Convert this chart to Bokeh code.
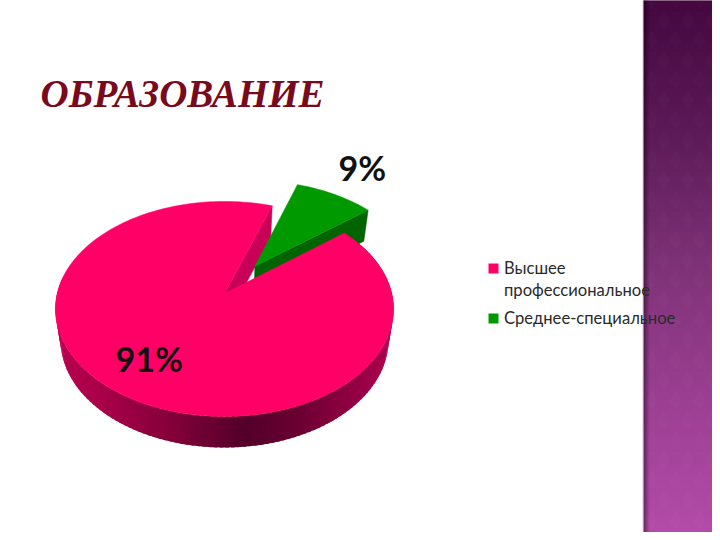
import math
from bokeh.plotting import figure
from bokeh.models import Range1d
from bokeh.core.properties import value
from bokeh.embed import file_html
from bokeh.resources import INLINE

title_text = "ОБРАЗОВАНИЕ"
categories = ["Высшее\nпрофессиональное", "Среднее-специальное"]
shares = [91, 9]
share_labels = ["91%", "9%"]
top_colors = ["#ff0066", "#009900"]
wall_colors = ["#c90058", "#006400"]

p = figure(width=712, height=532, x_range=Range1d(0, 712), y_range=Range1d(532, 0),
           output_backend="svg", toolbar_location=None, min_border=0,
           x_axis_type=None, y_axis_type=None, outline_line_color=None,
           background_fill_color="white", border_fill_color="white")
p.grid.visible = False


def mix(c1, c2, t):
    a = [int(c1[i:i + 2], 16) for i in (1, 3, 5)]
    b = [int(c2[i:i + 2], 16) for i in (1, 3, 5)]
    return "#%02x%02x%02x" % tuple(round(a[i] + (b[i] - a[i]) * t) for i in range(3))


def ramp(stops, x):
    if x <= stops[0][0]:
        return stops[0][1]
    for (x0, c0), (x1, c1) in zip(stops, stops[1:]):
        if x <= x1:
            return mix(c0, c1, (x - x0) / (x1 - x0))
    return stops[-1][1]


# decorative side band
BAND_L, BAND_R = 643, 720
band_stops = [(0, "#44073f"), (135, "#5c1a58"), (270, "#7f3278"), (405, "#9c3f93"), (540, "#b44ca9")]
ys = list(range(0, 540, 4))
p.quad(left=BAND_L, right=BAND_R, top=ys, bottom=[y + 4 for y in ys],
       fill_color=[ramp(band_stops, y + 2) for y in ys],
       line_color=[ramp(band_stops, y + 2) for y in ys], line_width=1)
dx, dy = [], []
for r in range(0, 30):
    for c in range(0, 5):
        dx.append(BAND_L + 8 + c * 24 + (12 if r % 2 else 0))
        dy.append(r * 20)
p.scatter(dx, dy, marker="diamond", size=20, fill_color="white", fill_alpha=0.016, line_color=None)
for i, alpha in enumerate([0.45, 0.38, 0.3, 0.2, 0.12, 0.05]):
    p.quad(left=BAND_L + i, right=BAND_L + i + 1, top=0, bottom=540,
           fill_color="black", fill_alpha=alpha, line_color=None)
p.quad(left=BAND_L - 1, right=BAND_L, top=0, bottom=540, fill_color="#e8c8e6", line_color=None)

# pie projection
CX, CY, AX, AY, K = 224.0, 293.0, 167.3, 105.3, 0.144
DEPTH, SHRINK = 31.0, 0.97
START = 38.7
sweep = [s / sum(shares) * 360 for s in shares]
pink_a0, pink_a1 = START - sweep[0], START
green_a0, green_a1 = START, START + sweep[1]
green_mid = math.radians((green_a0 + green_a1) / 2)
EXPLODE = 0.328
off_u, off_v = EXPLODE * math.cos(green_mid), EXPLODE * math.sin(green_mid)


def proj(a_deg, r=1.0, ou=0.0, ov=0.0, low=False):
    a = math.radians(a_deg)
    u, v = r * math.cos(a) + ou, r * math.sin(a) + ov
    w = 1 + K * v
    x, y = AX * u / w, AY * v / w
    if low:
        return CX + x * SHRINK, CY - y + DEPTH
    return CX + x, CY - y


def arc(a0, a1, n, **kw):
    return [proj(a0 + (a1 - a0) * i / n, **kw) for i in range(n + 1)]


def poly(points, color, lw=0.5):
    p.patch([q[0] for q in points], [q[1] for q in points], fill_color=color, line_color=color, line_width=lw)


# pink rim
rim_stops = [(58, "#b8004f"), (100, "#a80049"), (170, "#86003a"), (245, "#52002a"),
             (300, "#6a0032"), (345, "#8a003f"), (392, "#ad004e")]
N = 130
rim_from, rim_to = 170.0, 360 + START
for i in range(N):
    a0 = rim_from + (rim_to - rim_from) * i / N
    a1 = rim_from + (rim_to - rim_from) * (i + 1.6) / N
    q = [proj(a0), proj(a1), proj(a1, low=True), proj(a0, low=True)]
    poly(q, ramp(rim_stops, (q[0][0] + q[1][0]) / 2), lw=0)

# pink cut wall
poly([proj(0, r=0), proj(pink_a0), proj(pink_a0, low=True), proj(0, r=0, low=True)], wall_colors[0])

# exploded green slice
gk = dict(ou=off_u, ov=off_v)
poly([proj(0, r=0, **gk), proj(green_a0, **gk), proj(green_a0, low=True, **gk), proj(0, r=0, low=True, **gk)], wall_colors[1])
poly([proj(0, r=0, **gk)] + arc(green_a0, green_a1, 24, **gk), top_colors[1])

# pink top
poly([proj(0, r=0)] + arc(pink_a0, pink_a1, 200), top_colors[0])

# texts
p.text([40], [93], text=[title_text], text_font=value("Liberation Serif"), text_font_style="bold italic",
       text_font_size="39px", text_color="#780a1c", text_baseline="middle", text_align="left")
p.text([115, 338], [358, 167], text=share_labels, text_font=value("Lato"), text_font_style="bold",
       text_font_size="34px", text_color="#111111", text_baseline="middle", text_align="left")

# legend
LEG_X, LEG_S = 488, 10
leg_y = [268, 318]
p.quad(left=[LEG_X] * 2, right=[LEG_X + LEG_S] * 2, top=[y - LEG_S / 2 for y in leg_y],
       bottom=[y + LEG_S / 2 for y in leg_y], fill_color=top_colors, line_color=None)
for lab, y0 in zip(categories, leg_y):
    for j, line in enumerate(lab.split("\n")):
        p.text([503.5], [y0 - 1 + 22 * j], text=[line], text_font=value("Lato"), text_font_size="16.6px",
               text_color="#2a2a2a", text_baseline="middle", text_align="left")

open("out.html", "w").write(file_html(p, INLINE))
